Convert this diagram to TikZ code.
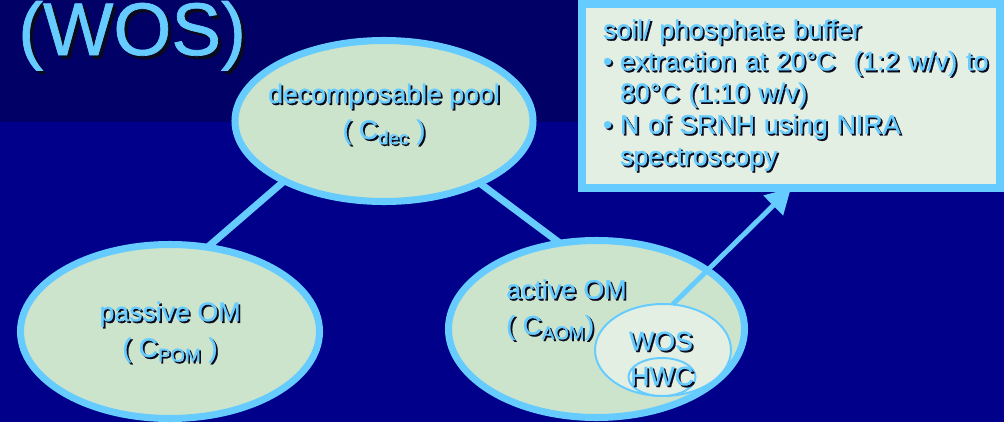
\documentclass[tikz,border=0pt]{standalone}
\usepackage{fontspec}
\setmainfont{Liberation Sans}[FakeBold=0.9]
\usepackage{xcolor}
\usetikzlibrary{shapes.geometric, arrows.meta}

\definecolor{bgtop}{HTML}{000066}
\definecolor{bgbot}{HTML}{00008A}
\definecolor{skyline}{HTML}{66CCFF}
\definecolor{poolfill}{HTML}{CCE4CC}
\definecolor{notefill}{HTML}{E2EFE2}
\definecolor{shadowc}{HTML}{0A0A1E}

% text with a small dark drop shadow
\newcommand{\shtxt}[2][0.045cm]{\mbox{\rlap{\kern#1\raisebox{-#1}{\color{shadowc}#2}}#2}}

\tikzset{
  pool/.style={ellipse, draw=skyline, fill=poolfill, line width=5pt, outer sep=0pt},
  subpool/.style={ellipse, draw=skyline, fill=notefill, line width=1.4pt, outer sep=0pt},
  poollabel/.style={text=skyline, font=\fontsize{19}{22.5}\selectfont, inner sep=0pt},
  link/.style={draw=skyline, line width=5pt},
}

\begin{document}
\begin{tikzpicture}
\useasboundingbox (0,0) rectangle (25.1,10.55);
\fill[bgbot] (0,0) rectangle (25.1,7.5);
\fill[bgtop] (0,7.5) rectangle (25.1,10.55);

% title
\node[anchor=base west, inner sep=0pt, text=skyline, font=\fontsize{53}{60}\selectfont] (title) at (0.45,9.175) {\shtxt[0.08cm]{(WOS)}};

% note box
\node[draw=skyline, fill=notefill, line width=5pt, outer sep=0pt, minimum height=4.6cm,
      text width=9.4cm, inner xsep=0.525cm, inner ysep=0pt, align=left,
      text=skyline, font=\fontsize{19}{22.5}\selectfont] (box) at (19.775,8.15)
  {\shtxt{soil/ phosphate buffer}\\
   \shtxt{\makebox[0.425cm][l]{•}extraction at 20°C~ (1:2 w/v) to}\\
   \shtxt{\hspace*{0.425cm}80°C (1:10 w/v)}\\
   \shtxt{\makebox[0.425cm][l]{•}N of SRNH using NIRA}\\
   \shtxt{\hspace*{0.425cm}spectroscopy}};

% pools
\node[pool, minimum width=7.45cm, minimum height=4.025cm] (dec) at (9.6,7.525) {};
\node[pool, minimum width=7.475cm, minimum height=4.35cm] (pas) at (4.25,2.2625) {};
\node[pool, minimum width=7.4cm, minimum height=4.425cm] (act) at (14.9125,2.325) {};

\draw[link] (dec.211) -- (pas.66);
\draw[link] (dec.327) -- (act.113);

\node[subpool, minimum width=3.4cm, minimum height=2.3cm] (wos) at (16.575,1.8) {};
\node[subpool, minimum width=1.675cm, minimum height=0.95cm] (hwc) at (16.55,1.125) {};

% labels
\node[poollabel, align=center] (dectxt) at (9.6,7.675)
  {\shtxt{decomposable pool}\\[3pt]\shtxt{( C\textsubscript{dec} )}};
\node[poollabel, align=center] (pastxt) at (4.25,2.225)
  {\shtxt{passive OM}\\[3pt]\shtxt{( C\textsubscript{POM} )}};
\node[poollabel, align=left, anchor=west] (acttxt) at (12.65,2.785)
  {\shtxt{active OM}\\[3pt]\shtxt{( C\textsubscript{AOM})}};
\node[poollabel] (wostxt) at (16.525,2.0) {\shtxt{WOS}};
\node[poollabel] (hwctxt) at (16.55,1.125) {\shtxt{HWC}};

\draw[link, line width=3.5pt, -{Triangle[length=0.625cm, width=0.675cm]}] (wos.78) -- (box.south);
\end{tikzpicture}
\end{document}
